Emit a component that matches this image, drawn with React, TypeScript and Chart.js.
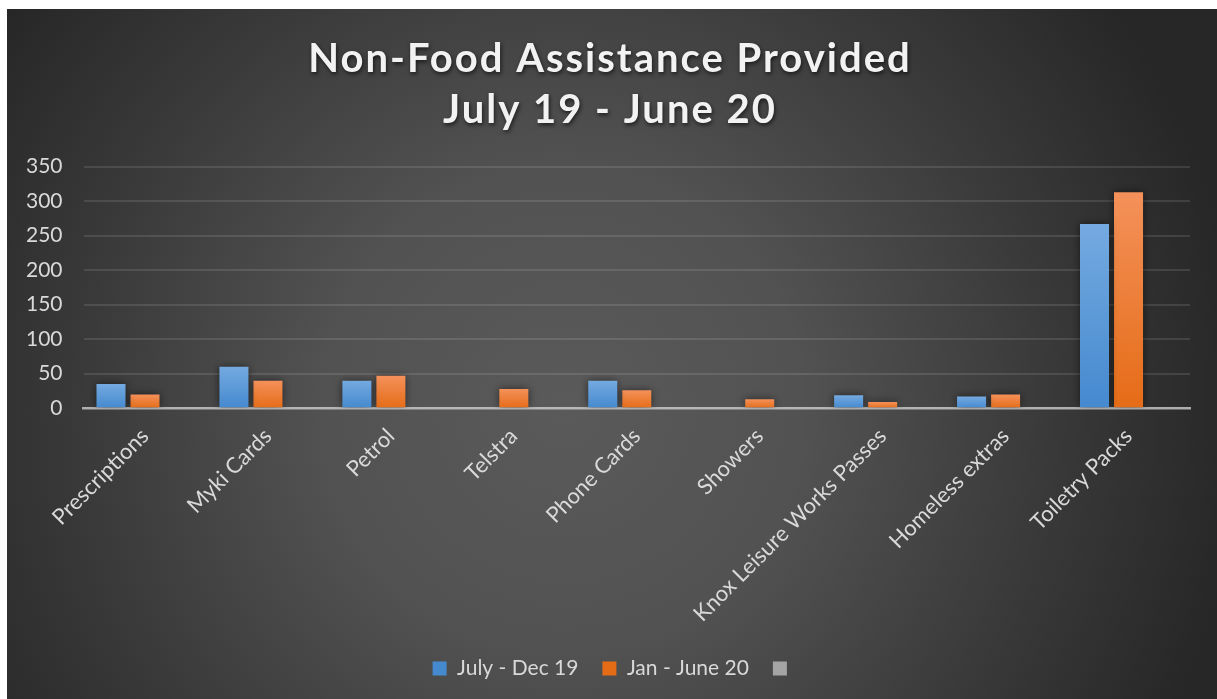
import React, { useEffect, useRef } from 'react';
import { Chart, registerables } from 'chart.js';

Chart.register(...registerables);

const categories = [
  'Prescriptions',
  'Myki Cards',
  'Petrol',
  'Telstra',
  'Phone Cards',
  'Showers',
  'Knox Leisure Works Passes',
  'Homeless extras',
  'Toiletry Packs',
];

const julyDec19: (number | null)[] = [35, 60, 40, null, 40, null, 19, 17, 267];
const janJune20: (number | null)[] = [20, 40, 47, 28, 26, 13, 9, 20, 313];
const thirdSeries: (number | null)[] = [null, null, null, null, null, null, null, null, null];

const seriesLabels = ['July - Dec 19', 'Jan - June 20', ''];

const titleLines = ['Non-Food Assistance Provided', 'July 19 - June 20'];

const yMin = 0;
const yMax = 350;
const yStep = 50;

const FONT = 'Lato, "Open Sans", sans-serif';
const TEXT = '#d9d9d9';

function barFill(top: string, bottom: string, solid: string) {
  return (ctx: any) => {
    const chart = ctx.chart;
    const area = chart.chartArea;
    if (ctx.type !== 'data' || !area) return solid;
    const v = ctx.raw;
    if (v == null) return solid;
    const ys = chart.scales.y;
    const y0 = ys.getPixelForValue(v);
    const y1 = ys.getPixelForValue(0);
    if (!isFinite(y0) || !isFinite(y1) || y1 - y0 < 1) return solid;
    const g = chart.ctx.createLinearGradient(0, y0, 0, y1);
    g.addColorStop(0, top);
    g.addColorStop(1, bottom);
    return g;
  };
}

const backgroundPlugin = {
  id: 'bgPlugin',
  beforeDraw(chart: any) {
    const c = chart.ctx;
    const w = chart.width;
    const h = chart.height;
    c.save();
    const g = c.createRadialGradient(w * 0.46, h * 0.58, 0, w * 0.46, h * 0.58, 680);
    g.addColorStop(0, '#5a5a5a');
    g.addColorStop(0.35, '#525252');
    g.addColorStop(0.72, '#393939');
    g.addColorStop(1, '#272727');
    c.fillStyle = g;
    c.fillRect(0, 0, w, h);
    c.restore();
  },
};

// Centre the title and legend on the whole chart box (as in the original),
// and give the title its letter spacing and soft shadow.
const centeringPlugin = {
  id: 'centering',
  beforeDraw(chart: any) {
    const tb = chart.titleBlock;
    if (tb && !tb.__patched) {
      const orig = tb.draw.bind(tb);
      tb.draw = (...args: any[]) => {
        const c = chart.ctx;
        const dx = chart.width / 2 - (tb.left + tb.right) / 2 - 2;
        c.save();
        c.translate(dx, 0);
        try {
          (c as any).letterSpacing = '2px';
        } catch (e) {}
        c.shadowColor = 'rgba(0,0,0,0.65)';
        c.shadowBlur = 4;
        c.shadowOffsetX = 1;
        c.shadowOffsetY = 2;
        orig(...args);
        c.restore();
      };
      tb.__patched = true;
    }
    const lg = chart.legend;
    if (lg && !lg.__patched) {
      const origL = lg.draw.bind(lg);
      lg.draw = (...args: any[]) => {
        const c = chart.ctx;
        const dx = chart.width / 2 - (lg.left + lg.right) / 2 + 3;
        c.save();
        c.translate(dx, 0);
        origL(...args);
        c.restore();
      };
      lg.__patched = true;
    }
  },
};

const barShadowPlugin = {
  id: 'barShadow',
  beforeDatasetsDraw(chart: any) {
    const c = chart.ctx;
    c.save();
    c.shadowColor = 'rgba(0,0,0,0.55)';
    c.shadowBlur = 8;
  },
  afterDatasetsDraw(chart: any) {
    chart.ctx.restore();
  },
};

export default function App() {
  const canvasRef = useRef<HTMLCanvasElement | null>(null);

  useEffect(() => {
    if (!canvasRef.current) return;
    Chart.defaults.font.family = FONT;
    const chart = new Chart(canvasRef.current, {
      type: 'bar',
      data: {
        labels: categories,
        datasets: [
          {
            label: seriesLabels[0],
            data: julyDec19,
            backgroundColor: barFill('#74aae0', '#4589cf', '#5b9bd5'),
          },
          {
            label: seriesLabels[1],
            data: janJune20,
            backgroundColor: barFill('#f4915a', '#e56c17', '#ed7d31'),
          },
          {
            label: seriesLabels[2],
            data: thirdSeries,
            backgroundColor: '#a5a5a5',
          },
        ],
      },
      options: {
        animation: false,
        responsive: false,
        datasets: {
          bar: {
            categoryPercentage: 0.83,
            barPercentage: 0.853,
          },
        },
        layout: {
          padding: { left: -2, right: 27, top: 2, bottom: 10 },
        },
        plugins: {
          title: {
            display: true,
            text: titleLines,
            color: '#f2f2f2',
            font: { family: FONT, size: 40, weight: 'bold', lineHeight: 1.27 },
            padding: { top: 23, bottom: 31 },
          },
          legend: {
            display: true,
            position: 'bottom',
            labels: {
              color: TEXT,
              font: { family: FONT, size: 21 },
              boxWidth: 14,
              boxHeight: 14,
              padding: 24,
            },
          },
          tooltip: { enabled: false },
        },
        scales: {
          x: {
            z: 1,
            grid: { display: false },
            border: { display: true, color: 'rgba(210,210,210,0.75)', width: 2.5 },
            ticks: {
              color: TEXT,
              font: { family: FONT, size: 22 },
              maxRotation: 45,
              minRotation: 45,
              padding: 7,
              autoSkip: false,
            },
          },
          y: {
            min: yMin,
            max: yMax,
            ticks: {
              stepSize: yStep,
              color: TEXT,
              font: { family: FONT, size: 21 },
              padding: 21,
            },
            grid: { color: 'rgba(255,255,255,0.11)', lineWidth: 2, drawTicks: false },
            border: { display: false },
          },
        },
      },
      plugins: [backgroundPlugin, centeringPlugin, barShadowPlugin],
    });
    return () => chart.destroy();
  }, []);

  return (
    <div style={{ position: 'absolute', left: 7, top: 9, width: 1210, height: 690 }}>
      <canvas ref={canvasRef} width={1210} height={690} style={{ display: 'block', width: 1210, height: 690 }} />
    </div>
  );
}
